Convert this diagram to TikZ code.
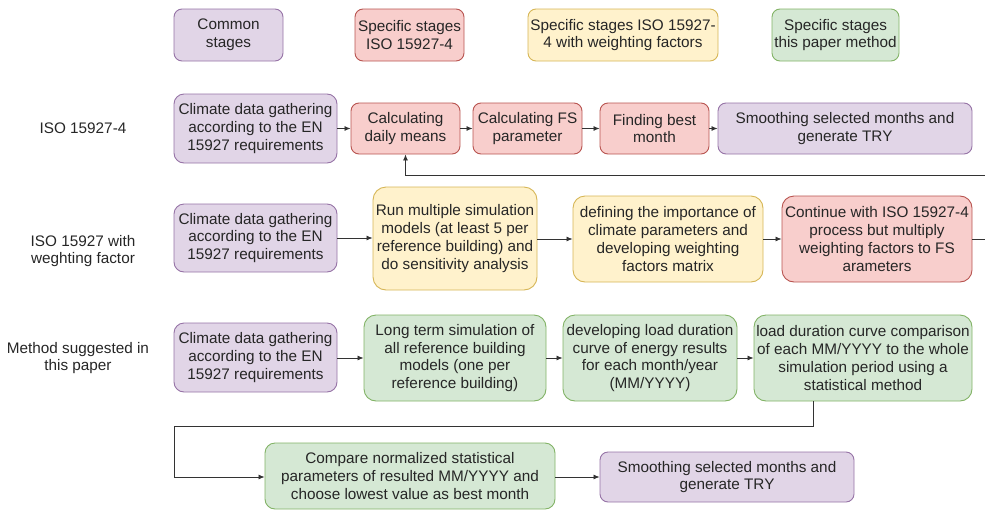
\documentclass[tikz,border=0pt]{standalone}
\usepackage{fontspec}
\setmainfont{Liberation Sans}
\usetikzlibrary{arrows.meta}
\definecolor{pfill}{HTML}{E1D5E7}\definecolor{pline}{HTML}{9673A6}
\definecolor{rfill}{HTML}{F8CECC}\definecolor{rline}{HTML}{B85450}
\definecolor{yfill}{HTML}{FFF2CC}\definecolor{yline}{HTML}{D6B656}
\definecolor{gfill}{HTML}{D5E8D4}\definecolor{gline}{HTML}{82B366}
\definecolor{txt}{HTML}{262626}
\tikzset{
  base/.style={rectangle, inner sep=0pt, align=center, text=txt, line width=0.9pt,
    font=\fontsize{15.3}{17.7}\selectfont},
  purplebox/.style={base, fill=pfill, draw=pline},
  redbox/.style={base, fill=rfill, draw=rline},
  yellowbox/.style={base, fill=yfill, draw=yline},
  greenbox/.style={base, fill=gfill, draw=gline},
  lbl/.style={inner sep=0pt, align=center, text=txt, font=\fontsize{15.3}{17.7}\selectfont},
  arr/.style={-{Latex[length=6pt,width=5pt]}, line width=0.8pt, draw=black!80},
  sz/.style 2 args={minimum width=#1, minimum height=#2},
}
\begin{document}
\begin{tikzpicture}[x=1pt,y=-1pt]
\useasboundingbox (0,0) rectangle (985,509);
% legend
\node[purplebox, sz={109}{52}, rounded corners=8pt] (leg1) at (228.5,35) {Common\\stages};
\node[redbox, sz={109}{52}, rounded corners=8pt] (leg2) at (409.5,35) {Specific stages\\ISO 15927-4};
\node[yellowbox, sz={190}{52}, rounded corners=8pt] (leg3) at (623,35) {Specific stages ISO 15927-\\4 with weighting factors};
\node[greenbox, sz={127}{52}, rounded corners=8pt] (leg4) at (835.5,35) {Specific stages\\this paper method};
% row labels
\node[lbl] (lab1) at (83,128) {ISO 15927-4};
\node[lbl] (lab2) at (83,251) {ISO 15927 with\\weghting factor};
\node[lbl] (lab3) at (78,358) {Method suggested in\\this paper};
% row 1
\node[purplebox, sz={163}{69}, rounded corners=10pt] (c1) at (255.5,128.5) {Climate data gathering\\according to the EN\\15927 requirements};
\node[redbox, sz={109}{51}, rounded corners=8pt] (dm) at (405.5,128.5) {Calculating\\daily means};
\node[redbox, sz={109}{51}, rounded corners=8pt] (fs) at (527.5,128.5) {Calculating FS\\parameter};
\node[redbox, sz={109}{51}, rounded corners=8pt] (bm) at (654.5,128.5) {Finding best\\month};
\node[purplebox, sz={254}{51}, rounded corners=8pt] (sm1) at (845,128.5) {Smoothing selected months and\\generate TRY};
\draw[arr] (c1.east) -- (c1.east -| dm.west);
\draw[arr] (dm.east) -- (dm.east -| fs.west);
\draw[arr] (fs.east) -- (fs.east -| bm.west);
\draw[arr] (bm.east) -- (bm.east -| sm1.west);
% row 2
\node[purplebox, sz={163}{68}, rounded corners=10pt] (c2) at (255.5,238) {Climate data gathering\\according to the EN\\15927 requirements};
\node[yellowbox, sz={164}{103}, rounded corners=13pt] (run) at (455,238.5) {Run multiple simulation\\models (at least 5 per\\reference building) and\\do sensitivity analysis};
\node[yellowbox, sz={190}{86}, rounded corners=12pt] (def) at (668,239) {defining the importance of\\climate parameters and\\developing weighting\\factors matrix};
\node[redbox, sz={190}{86}, rounded corners=12pt] (cont) at (877,239) {Continue with ISO 15927-4\\process but multiply\\weighting factors to FS\\arameters};
\draw[arr] (c2.east) -- (c2.east -| run.west);
\draw[arr] (run.east |- def.west) -- (def.west);
\draw[arr] (def.east) -- (cont.west);
\coordinate (turn) at (1000,175);
\draw[arr] (cont.east) -| (turn) -| (dm.south);
% row 3
\node[purplebox, sz={163}{69}, rounded corners=10pt] (c3) at (255.5,357.5) {Climate data gathering\\according to the EN\\15927 requirements};
\node[greenbox, sz={182}{86}, rounded corners=12pt] (lt) at (455,358) {Long term simulation of\\all reference building\\models (one per\\reference building)};
\node[greenbox, sz={174}{86}, rounded corners=12pt] (dev) at (650,358) {developing load duration\\curve of energy results\\for each month/year\\(MM/YYYY)};
\node[greenbox, sz={218}{86}, rounded corners=12pt] (ldc) at (863,358) {load duration curve comparison\\of each MM/YYYY to the whole\\simulation period using a\\statistical method};
\draw[arr] (c3.east |- lt.west) -- (lt.west);
\draw[arr] (lt.east) -- (dev.west);
\draw[arr] (dev.east) -- (ldc.west);
% row 4
\node[greenbox, sz={290}{66}, rounded corners=10pt] (cmp) at (410,476) {Compare normalized statistical\\parameters of resulted MM/YYYY and\\choose lowest value as best month};
\node[purplebox, sz={254}{50}, rounded corners=8pt] (sm2) at (727,477) {Smoothing selected months and\\generate TRY};
\coordinate (loopL) at (174,426);
\draw[arr] ([xshift=-50pt]ldc.south) |- (loopL) |- (cmp.west |- sm2.west);
\draw[arr] (cmp.east |- sm2.west) -- (sm2.west);
\end{tikzpicture}
\end{document}
